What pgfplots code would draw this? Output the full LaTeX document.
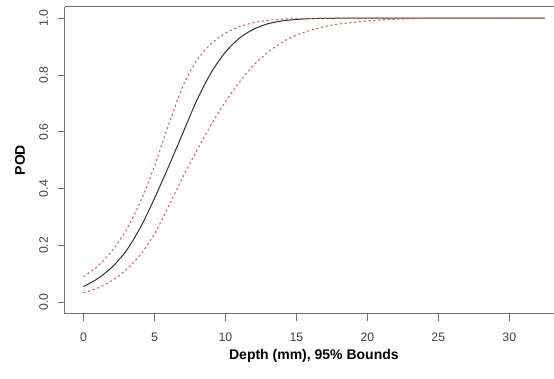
\documentclass[border=0pt]{standalone}
\usepackage{fontspec}
\setmainfont{Liberation Sans}
\usepackage{pgfplots}
\pgfplotsset{compat=1.18}
\definecolor{bnd}{RGB}{205,105,105}
\definecolor{axgray}{RGB}{110,110,110}
\definecolor{fitc}{RGB}{50,50,50}
\begin{document}
\begin{tikzpicture}
\begin{axis}[
  scale only axis, width=489pt, height=306.9pt,
  xmin=-1.3, xmax=33.15, ymin=-0.04, ymax=1.04,
  axis x line*=box, axis y line*=left,
  tick pos=left, tick align=outside,
  major tick length=7pt,
  tick style={axgray, line width=0.8pt},
  axis line style={axgray, line width=1pt},
  xtick={0,5,10,15,20,25,30},
  ytick={0,0.2,0.4,0.6,0.8,1.0},
  /pgf/number format/assume math mode=true,
  yticklabel={\pgfmathprintnumber[fixed,fixed zerofill,precision=1]{\tick}},
  tick label style={font=\fontsize{12.3}{14}\selectfont, text=black!75},
  yticklabel style={xshift=-6.5pt, rotate=90, anchor=south},
  xticklabel style={yshift=-9pt, anchor=north},
  xlabel={Depth (mm), 95\% Bounds},
  ylabel={POD},
  label style={font=\bfseries\fontsize{14}{16}\selectfont},
  xlabel style={at={(axis description cs:0.509,-0.138)}, anchor=center},
  ylabel style={at={(axis description cs:-0.092,0.5)}, anchor=center},
]
\addplot[fitc, line width=1pt, smooth] coordinates {
 (0,0.055) (1,0.083) (2,0.123) (3,0.180) (4,0.262) (5,0.365) (6,0.478)
 (7,0.595) (8,0.712) (9,0.808) (10,0.880) (11,0.930) (12,0.961) (13,0.980)
 (14,0.990) (15,0.995) (16,0.998) (18,0.9995) (20,1.0) (32.5,1.0)
};
\addplot[bnd, line width=1.1pt, dash pattern=on 2.2pt off 2.6pt, smooth] coordinates {
 (0,0.090) (1,0.127) (2,0.180) (3,0.253) (4,0.352) (5,0.478) (6,0.625)
 (7,0.760) (8,0.852) (9,0.910) (10,0.947) (11,0.970) (12,0.984) (13,0.992)
 (14,0.996) (15,0.998) (17,0.9995) (20,1.0) (32.5,1.0)
};
\addplot[bnd, line width=1.1pt, dash pattern=on 2.2pt off 2.6pt, smooth] coordinates {
 (0,0.033) (1,0.050) (2,0.076) (3,0.114) (4,0.167) (5,0.240) (6,0.338)
 (7,0.440) (8,0.535) (9,0.625) (10,0.705) (11,0.775) (12,0.835) (13,0.880)
 (14,0.915) (15,0.940) (16,0.957) (17,0.970) (18,0.979) (20,0.990)
 (22,0.996) (25,0.999) (28,1.0) (32.5,1.0)
};
\end{axis}
\pgfresetboundingbox
\path ([xshift=-65pt,yshift=-64.4pt]current axis.south west) rectangle ([yshift=6.7pt]current axis.north east);
\end{tikzpicture}
\end{document}
